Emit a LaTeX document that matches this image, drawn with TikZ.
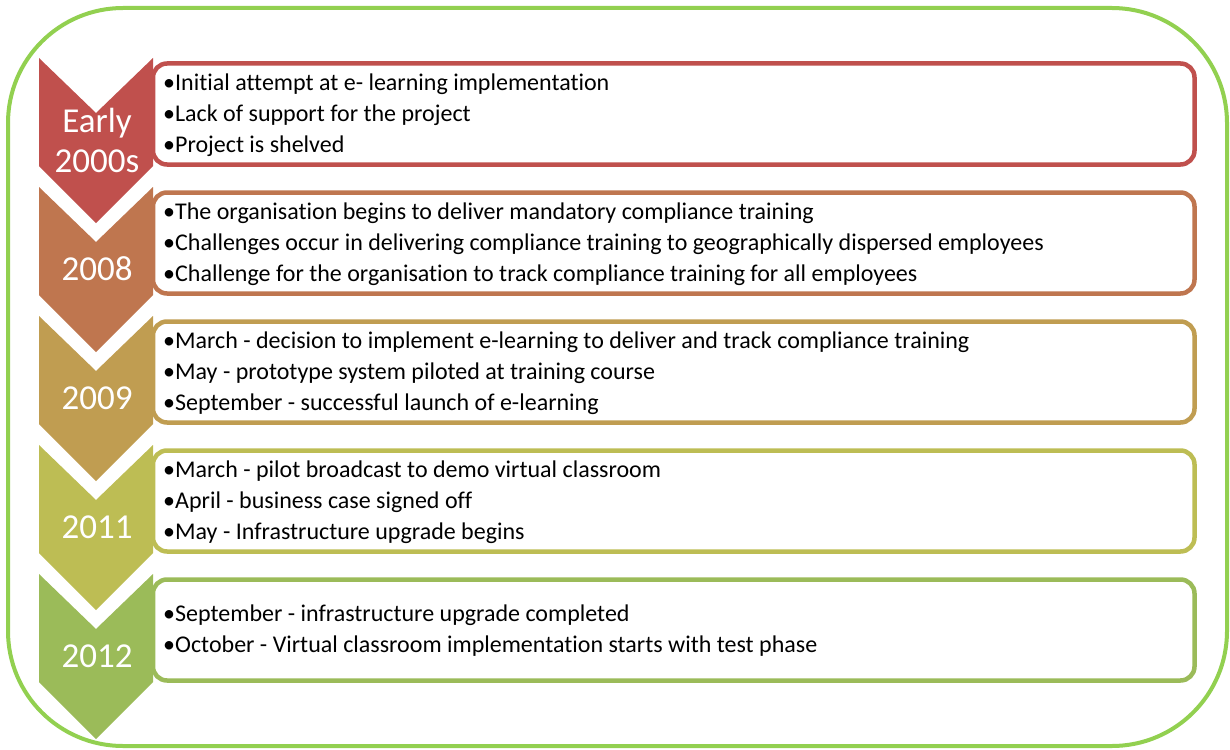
\documentclass[tikz,border=0pt]{standalone}
\usepackage{fontspec}
\setmainfont{Carlito}[Ligatures={NoCommon}]
\definecolor{stageA}{RGB}{192,80,77}
\definecolor{stageB}{RGB}{191,118,79}
\definecolor{stageC}{RGB}{192,157,81}
\definecolor{stageD}{RGB}{189,189,84}
\definecolor{stageE}{RGB}{155,187,89}
\definecolor{framegreen}{RGB}{146,208,80}
\tikzset{
  infobox/.style={rectangle, rounded corners=14pt, line width=4.5pt, fill=white,
    minimum width=1041.5pt, minimum height=101pt, inner sep=0pt},
  yearlabel/.style={text=white, align=center, inner sep=0pt,
    font=\fontsize{35}{40}\selectfont},
  itemlist/.style={anchor=west, align=left, inner sep=0pt,
    font=\fontsize{24}{31}\selectfont},
}
% one timeline stage: name, top y, colour, year label, bullet lines
\newcommand\timestage[5]{%
  \node[infobox, draw=#3] (#1box) at (673.75,#2+56) {};
  \fill[#3] (39,#2) -- (96,#2+55) -- (153,#2) -- (153,#2+108)
    -- (96,#2+165) -- (39,#2+108) -- cycle;
  \node[yearlabel] (#1year) at (97,#2+82) {#4};
  \node[itemlist] (#1items) at (163,#2+57) {#5};
}
\begin{document}
\begin{tikzpicture}[x=1pt,y=-1pt]
\useasboundingbox (0,0) rectangle (1230,749);
\draw[framegreen, line width=4pt, rounded corners=115pt] (8,8) rectangle (1227,746);
\timestage{early}{58}{stageA}{Early\\2000s}{%
  •Initial attempt at e- learning implementation\\
  •Lack of support for the project\\
  •Project is shelved}
\timestage{y2008}{187}{stageB}{2008}{%
  •The organisation begins to deliver mandatory compliance training\\
  •Challenges occur in delivering compliance training to geographically dispersed employees\\
  •Challenge for the organisation to track compliance training for all employees}
\timestage{y2009}{316}{stageC}{2009}{%
  •March - decision to implement e-learning to deliver and track compliance training\\
  •May - prototype system piloted at training course\\
  •September - successful launch of e-learning}
\timestage{y2011}{445}{stageD}{2011}{%
  •March - pilot broadcast to demo virtual classroom\\
  •April - business case signed off\\
  •May - Infrastructure upgrade begins}
\timestage{y2012}{574}{stageE}{2012}{%
  •September - infrastructure upgrade completed\\
  •October - Virtual classroom implementation starts with test phase}
\end{tikzpicture}
\end{document}
